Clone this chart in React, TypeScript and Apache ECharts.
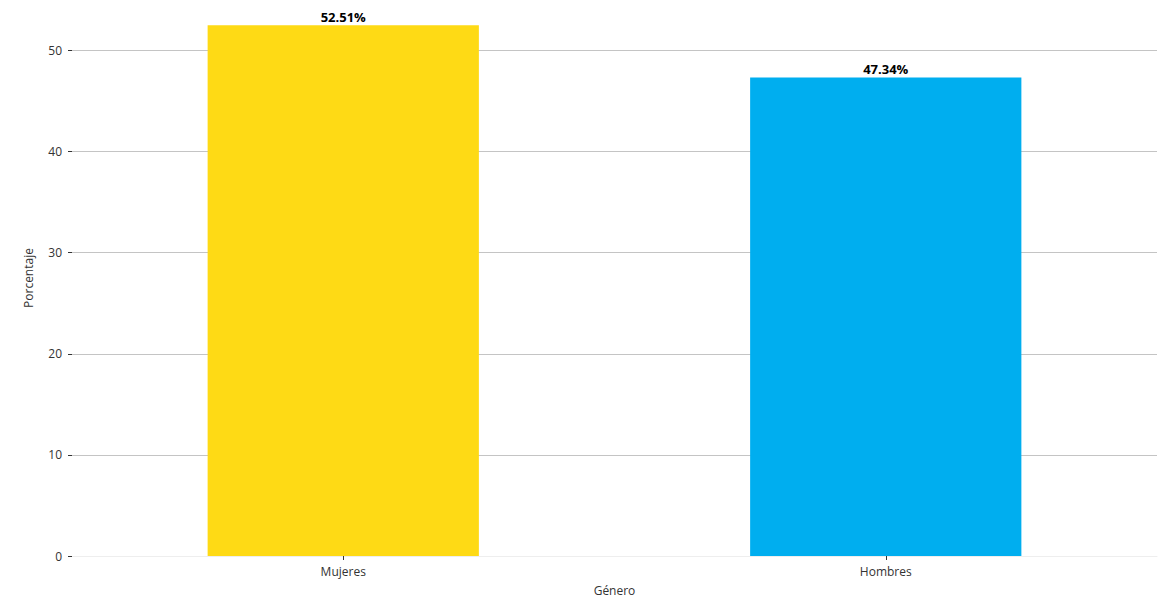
import React, { useEffect, useRef } from "react";
import * as echarts from "echarts";

const categories = ["Mujeres", "Hombres"];
const values = [52.51, 47.34];
const colors = ["#FEDA15", "#00AEEF"];

export default function App() {
  const ref = useRef<HTMLDivElement>(null);
  useEffect(() => {
    const chart = echarts.init(ref.current!, null, { renderer: "svg" });
    const font = "'Open Sans', 'Noto Sans', sans-serif";
    chart.setOption({
      animation: false,
      backgroundColor: "#ffffff",
      grid: { left: 72, right: 2, top: 0, bottom: 34, containLabel: false },
      xAxis: {
        type: "category",
        data: categories,
        name: "Género",
        nameLocation: "middle",
        nameGap: 28,
        nameTextStyle: { color: "#333", fontSize: 12, fontFamily: font },
        axisLine: { show: true, lineStyle: { color: "#eeeeee" } },
        axisTick: { show: true, alignWithLabel: true, length: 4, lineStyle: { color: "#333" } },
        axisLabel: { color: "#333", fontSize: 12, fontFamily: font, margin: 9 },
      },
      yAxis: {
        type: "value",
        min: 0,
        max: 55,
        interval: 10,
        name: "Porcentaje",
        nameLocation: "middle",
        nameGap: 38,
        nameTextStyle: { color: "#333", fontSize: 12, fontFamily: font },
        axisLine: { show: false },
        axisTick: { show: true, length: 4, inside: false, lineStyle: { color: "#333" } },
        axisLabel: { color: "#333", fontSize: 12, fontFamily: font, margin: 10, showMaxLabel: false },
        splitLine: { show: true, showMaxLine: false, lineStyle: { color: "#c4c4c4", width: 1 } },
      },
      series: [
        {
          type: "bar",
          barWidth: "50%",
          data: values.map((v, i) => ({ value: v, itemStyle: { color: colors[i] } })),
          label: {
            show: true,
            position: "top",
            distance: 2,
            formatter: (p: any) => p.value.toFixed(2) + "%",
            color: "#000",
            fontWeight: "bold",
            fontSize: 13,
            fontFamily: font,
          },
        },
      ],
    });
    return () => chart.dispose();
  }, []);
  return (
    <div
      ref={ref}
      style={{ position: "fixed", left: 0, top: 0, width: 1159, height: 601 }}
    />
  );
}
